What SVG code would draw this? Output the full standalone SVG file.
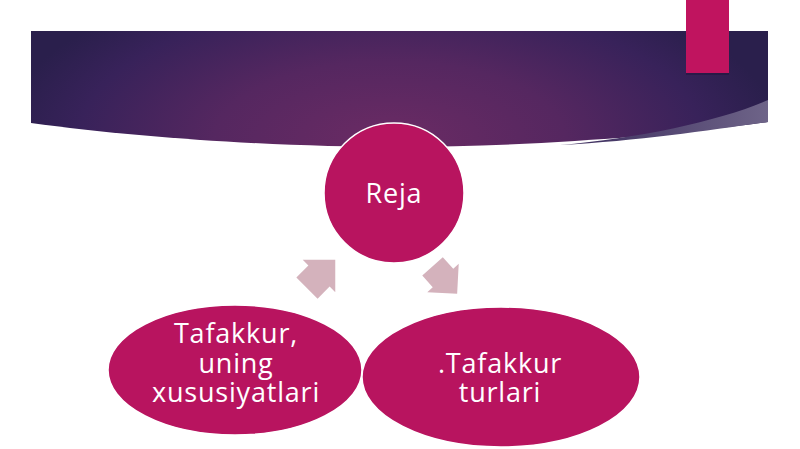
<svg xmlns="http://www.w3.org/2000/svg" width="800" height="449" viewBox="0 0 800 449">
  <defs>
    <radialGradient id="bandGrad" gradientUnits="userSpaceOnUse" cx="390" cy="140" r="390" gradientTransform="translate(390 140) scale(1 0.45) translate(-390 -140)">
      <stop offset="0" stop-color="#6b2b64"/>
      <stop offset="0.45" stop-color="#552760"/>
      <stop offset="0.8" stop-color="#38225a"/>
      <stop offset="1" stop-color="#2a1f4c"/>
    </radialGradient>
    <linearGradient id="sliverGrad" gradientUnits="userSpaceOnUse" x1="560" y1="0" x2="768" y2="0">
      <stop offset="0" stop-color="#3a2a5c"/>
      <stop offset="1" stop-color="#6e6488"/>
    </linearGradient>
    <style>
      .node { fill: #b8145f; stroke: #ffffff; stroke-width: 1.5; }
      .label { font-family: "Open Sans", "Noto Sans", "DejaVu Sans", sans-serif; font-size: 27px; letter-spacing: 0.8px; fill: #ffffff; text-anchor: middle; }
      .arrow { fill: #d4b2bc; }
    </style>
    <path id="arrowShape" d="M23,0 L0,-23 L0,-15 L-17,-15 L-17,15 L0,15 L0,23 Z"/>
  </defs>

  <rect width="800" height="449" fill="#ffffff"/>

  <g id="header-band">
    <path d="M31,31 H768 V122 C660,137 520,147 400,147 C280,147 140,138 31,123 Z" fill="url(#bandGrad)"/>
    <path d="M768,100 C720,121 640,138 560,145 C640,141 710,130 768,122 Z" fill="url(#sliverGrad)"/>
    <rect x="686" y="2" width="43" height="73" fill="#1a0f30" opacity="0.35"/>
    <rect x="686" y="0" width="43" height="73" fill="#c0145f"/>
  </g>

  <g id="connectors">
    <use href="#arrowShape" class="arrow" transform="translate(319 276) rotate(-45)"/>
    <use href="#arrowShape" class="arrow" transform="translate(443 278) rotate(48) scale(0.92)"/>
  </g>

  <g id="node-reja">
    <circle class="node" cx="394" cy="193" r="70"/>
    <text class="label" x="394" y="202.5">Reja</text>
  </g>

  <g id="node-tafakkur-xususiyatlari">
    <ellipse class="node" cx="235" cy="370" rx="127" ry="65"/>
    <text class="label" x="236" y="343">Tafakkur,</text>
    <text class="label" x="236" y="372.5">uning</text>
    <text class="label" x="236" y="401.5">xususiyatlari</text>
  </g>

  <g id="node-tafakkur-turlari">
    <ellipse class="node" cx="501" cy="377" rx="139" ry="70"/>
    <text class="label" x="500" y="372.5">.Tafakkur</text>
    <text class="label" x="500" y="401.5">turlari</text>
  </g>
</svg>
